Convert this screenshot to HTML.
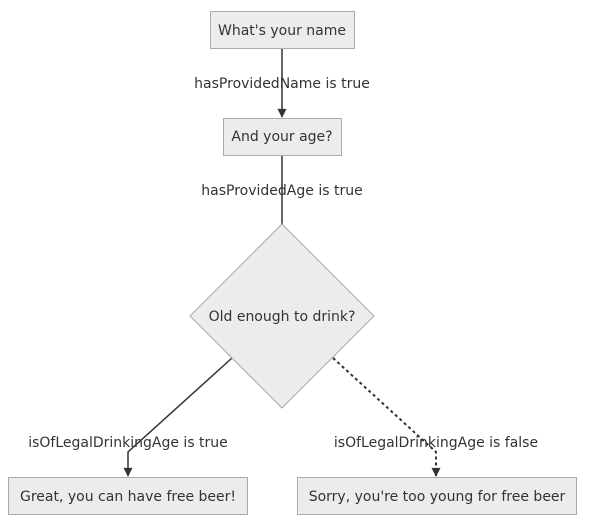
<!DOCTYPE html>
<html><head><style>html,body{margin:0;padding:0;background:#fff;}svg{display:block}</style></head>
<body>
<svg width="592" height="527" xmlns="http://www.w3.org/2000/svg" font-family="DejaVu Sans, sans-serif" font-size="14" fill="#333">
<defs><marker id="a" viewBox="0 0 10 10" refX="9" refY="5" markerWidth="10" markerHeight="9" markerUnits="userSpaceOnUse" orient="auto"><path d="M0,0L10,5L0,10z" fill="#333"/></marker></defs>
<g stroke="#333" stroke-width="1.5" fill="none">
<line x1="282" y1="48" x2="282" y2="117" marker-end="url(#a)"/>
<line x1="282" y1="155" x2="282" y2="225"/>
<polyline points="232,358 128,452 128,476" marker-end="url(#a)"/>
<polyline points="333,358 436,452 436,476" stroke-dasharray="3,3" stroke-width="2" marker-end="url(#a)"/>
</g>
<g fill="#ececec" stroke="#aaa" stroke-width="1">
<rect x="210.5" y="11.5" width="144" height="37"/>
<rect x="223.5" y="118.5" width="118" height="37"/>
<polygon points="282,224 374,316 282,408 190,316"/>
<rect x="8.5" y="477.5" width="239" height="37"/>
<rect x="297.5" y="477.5" width="279" height="37"/>
</g>
<g text-anchor="middle">
<text x="282" y="35">What's your name</text>
<text x="282" y="141">And your age?</text>
<text x="282" y="321">Old enough to drink?</text>
<text x="128" y="501">Great, you can have free beer!</text>
<text x="437" y="501">Sorry, you're too young for free beer</text>
<text x="282" y="88">hasProvidedName is true</text>
<text x="282" y="195">hasProvidedAge is true</text>
<text x="128" y="447">isOfLegalDrinkingAge is true</text>
<text x="436" y="447">isOfLegalDrinkingAge is false</text>
</g>
</svg>
</body></html>
